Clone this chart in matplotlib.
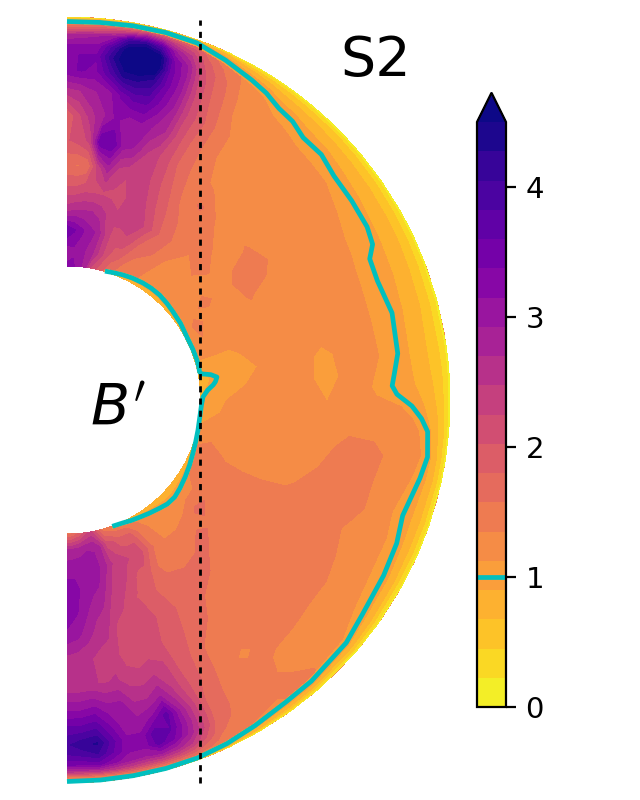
import numpy as np
import matplotlib
matplotlib.use('Agg')
import matplotlib.pyplot as plt

# everything is in picture pixels measured from the centre of the spheres
R_IN = 134
R_OUT = 383
LEVELS = np.linspace(0, 4.5, 21)

# bulk field: colatitude (rows) against radius (columns)
bulk_theta = [0, 2.5, 5, 7.5, 10, 12.5, 15, 17.5, 20, 22.5, 25, 30, 35, 40, 45, 50, 55, 60, 65, 70, 75,
              80, 85, 90, 95, 100, 105, 110, 115, 120, 125, 130, 135, 140, 145, 150, 155, 157.5, 160,
              162.5, 165, 167.5, 170, 172.5, 175, 177.5, 180]
bulk_r = [134, 150, 170, 190, 210, 235, 260, 285, 310, 330, 345, 355, 365, 372, 378, 383]
bulk_b = [
    [3.2, 3.0, 3.6, 2.6, 2.1, 1.6, 2.0, 1.8, 2.6, 3.3, 3.3, 3.2, 2.7, 1.8, 1.3, 1.3],
    [3.2, 3.1, 3.4, 2.7, 2.1, 1.55, 2.1, 2.2, 2.7, 3.4, 3.4, 3.2, 2.8, 1.9, 1.3, 1.3],
    [3.0, 3.0, 3.2, 2.7, 2.2, 1.6, 2.3, 2.6, 2.9, 3.3, 3.4, 3.2, 2.9, 2.0, 1.3, 1.3],
    [2.8, 2.9, 3.0, 2.7, 2.2, 2.3, 3.6, 2.9, 3.0, 3.8, 4.2, 3.9, 3.1, 2.2, 1.35, 1.3],
    [2.2, 2.7, 2.9, 2.6, 2.2, 2.8, 3.6, 3.2, 3.4, 4.4, 4.8, 4.7, 4.0, 2.5, 1.4, 1.3],
    [2.0, 2.4, 2.5, 2.4, 2.2, 2.4, 3.0, 3.0, 3.7, 4.4, 5.0, 5.0, 4.2, 2.9, 1.6, 1.3],
    [1.8, 2.1, 2.2, 2.3, 2.1, 2.3, 2.9, 3.1, 3.7, 4.2, 4.8, 4.7, 3.8, 2.7, 1.6, 1.3],
    [1.6, 1.9, 2.15, 2.35, 2.35, 2.3, 2.5, 2.9, 3.3, 3.5, 3.5, 3.4, 2.9, 2.3, 1.6, 1.3],
    [1.5, 1.8, 2.2, 2.4, 2.4, 2.3, 2.3, 2.7, 2.9, 3.0, 3.0, 2.9, 2.5, 2.1, 1.6, 1.3],
    [1.4, 1.6, 2.0, 2.35, 2.2, 2.1, 2.1, 2.2, 2.3, 2.3, 2.2, 2.1, 1.9, 1.7, 1.45, 1.3],
    [1.35, 1.5, 1.75, 2.15, 2.0, 1.9, 1.8, 1.85, 1.95, 1.85, 1.8, 1.75, 1.6, 1.45, 1.3, 1.3],
    [1.3, 1.4, 1.6, 1.7, 1.65, 1.5, 1.45, 1.4, 1.4, 1.35, 1.3, 1.25, 1.24, 1.24, 1.24, 1.24],
    [1.24, 1.24, 1.35, 1.5, 1.45, 1.6, 1.3, 1.24, 1.24, 1.24, 1.24, 1.24, 1.24, 1.24, 1.24, 1.24],
    [1.24, 1.24, 1.24, 1.35, 1.5, 1.3, 1.24, 1.24, 1.24, 1.24, 1.24, 1.24, 1.24, 1.24, 1.24, 1.24],
    [1.24, 1.24, 1.3, 1.45, 1.3, 1.3, 1.24, 1.24, 1.24, 1.24, 1.24, 1.24, 1.24, 1.24, 1.24, 1.24],
    [1.24, 1.24, 1.3, 1.3, 1.3, 1.36, 1.24, 1.24, 1.24, 1.24, 1.24, 1.24, 1.24, 1.24, 1.24, 1.24],
    [1.24, 1.3, 1.4, 1.24, 1.42, 1.42, 1.24, 1.24, 1.24, 1.24, 1.24, 1.24, 1.24, 1.24, 1.24, 1.24],
    [1.24, 1.4, 1.24, 1.24, 1.37, 1.3, 1.24, 1.24, 1.24, 1.24, 1.24, 1.24, 1.24, 1.24, 1.24, 1.24],
    [1.24, 1.35, 1.24, 1.24, 1.3, 1.24, 1.24, 1.24, 1.24, 1.24, 1.24, 1.24, 1.24, 1.24, 1.24, 1.24],
    [1.24, 1.24, 1.2, 1.24, 1.24, 1.24, 1.24, 1.24, 1.24, 1.24, 1.24, 1.24, 1.24, 1.24, 1.24, 1.24],
    [1.05, 1.05, 1.05, 1.2, 1.24, 1.24, 1.24, 1.24, 1.24, 1.24, 1.24, 1.24, 1.24, 1.24, 1.24, 1.24],
    [1.05, 1.05, 1.05, 1.1, 1.24, 1.24, 1.05, 1.24, 1.24, 1.24, 1.24, 1.24, 1.24, 1.24, 1.24, 1.24],
    [1.05, 1.05, 1.05, 1.2, 1.24, 1.24, 1.0, 1.24, 1.24, 1.24, 1.24, 1.24, 1.24, 1.24, 1.24, 1.24],
    [1.05, 1.05, 1.2, 1.24, 1.24, 1.24, 1.12, 1.24, 1.24, 1.24, 1.24, 1.24, 1.24, 1.24, 1.24, 1.24],
    [1.05, 1.1, 1.24, 1.24, 1.24, 1.24, 1.24, 1.24, 1.2, 1.24, 1.24, 1.24, 1.24, 1.24, 1.24, 1.24],
    [1.1, 1.24, 1.24, 1.24, 1.24, 1.24, 1.24, 1.47, 1.47, 1.24, 1.24, 1.24, 1.24, 1.24, 1.24, 1.24],
    [1.24, 1.3, 1.24, 1.24, 1.24, 1.24, 1.35, 1.47, 1.4, 1.24, 1.24, 1.24, 1.24, 1.24, 1.24, 1.24],
    [1.35, 1.47, 1.3, 1.24, 1.24, 1.3, 1.47, 1.47, 1.4, 1.24, 1.24, 1.24, 1.24, 1.24, 1.24, 1.24],
    [1.24, 1.5, 1.47, 1.47, 1.47, 1.47, 1.47, 1.47, 1.3, 1.24, 1.24, 1.24, 1.24, 1.24, 1.24, 1.24],
    [1.24, 1.5, 1.47, 1.47, 1.47, 1.47, 1.47, 1.47, 1.35, 1.24, 1.24, 1.24, 1.24, 1.24, 1.24, 1.24],
    [1.24, 1.3, 1.55, 1.47, 1.47, 1.47, 1.47, 1.47, 1.4, 1.24, 1.24, 1.24, 1.24, 1.24, 1.24, 1.24],
    [1.24, 1.24, 1.65, 1.5, 1.47, 1.47, 1.47, 1.47, 1.4, 1.24, 1.24, 1.24, 1.24, 1.24, 1.24, 1.24],
    [1.24, 1.24, 1.4, 1.65, 1.5, 1.47, 1.47, 1.47, 1.47, 1.24, 1.24, 1.24, 1.24, 1.24, 1.24, 1.24],
    [1.24, 1.3, 1.35, 1.5, 1.65, 1.5, 1.47, 1.47, 1.47, 1.3, 1.24, 1.35, 1.47, 1.47, 1.47, 1.47],
    [1.3, 1.3, 1.35, 1.5, 1.6, 1.6, 1.47, 1.47, 1.3, 1.47, 1.47, 1.47, 1.35, 1.3, 1.3, 1.3],
    [1.3, 1.4, 1.6, 1.45, 1.7, 1.7, 1.7, 1.5, 1.47, 1.47, 1.47, 1.45, 1.4, 1.35, 1.3, 1.3],
    [1.3, 1.9, 2.2, 1.9, 1.8, 1.9, 1.85, 1.85, 1.85, 1.75, 1.75, 1.7, 1.6, 1.5, 1.4, 1.3],
    [1.35, 1.9, 2.2, 1.95, 1.9, 2.0, 1.95, 2.0, 2.1, 2.3, 2.35, 2.3, 2.0, 1.7, 1.45, 1.3],
    [1.35, 1.9, 2.3, 2.1, 2.0, 2.2, 2.1, 2.3, 2.5, 2.9, 3.0, 2.9, 2.5, 2.0, 1.5, 1.3],
    [1.4, 2.1, 2.35, 2.3, 2.1, 2.1, 2.1, 2.4, 2.9, 3.7, 3.6, 3.4, 2.8, 2.2, 1.5, 1.3],
    [1.5, 2.2, 2.5, 2.3, 2.3, 2.1, 2.1, 2.3, 2.7, 3.2, 3.8, 3.7, 3.0, 2.3, 1.5, 1.3],
    [1.9, 2.7, 2.8, 2.6, 2.4, 2.2, 2.15, 2.35, 2.7, 3.0, 3.2, 3.2, 2.9, 2.3, 1.5, 1.3],
    [2.3, 2.9, 3.0, 2.9, 2.7, 2.5, 2.4, 2.5, 3.0, 3.0, 3.2, 3.2, 3.0, 2.4, 1.5, 1.3],
    [2.1, 2.9, 3.1, 3.0, 2.8, 2.6, 2.4, 2.45, 3.0, 3.4, 3.7, 3.6, 3.2, 2.5, 1.45, 1.3],
    [1.8, 2.8, 3.1, 3.1, 3.0, 2.8, 2.5, 2.5, 3.2, 3.8, 4.3, 4.05, 3.5, 2.6, 1.4, 1.3],
    [1.6, 2.75, 3.1, 3.2, 3.2, 3.0, 2.55, 2.5, 3.1, 3.7, 4.2, 3.9, 3.4, 2.5, 1.4, 1.3],
    [1.5, 2.7, 3.1, 3.2, 3.3, 3.1, 2.6, 2.5, 3.1, 3.7, 4.0, 3.8, 3.4, 2.5, 1.4, 1.3],
]

# outer shell: radius at which the field reaches each of the outer contours
shell_theta = [0, 5, 10, 15, 20, 25, 30, 33, 36, 39, 42, 46, 50, 55, 60, 63, 65, 69, 75, 82, 85,
               87.5, 89, 91, 93, 95, 99, 102.5, 109, 113.5, 119, 126, 131, 139, 144, 150, 155,
               160, 165, 170, 175, 180]
shell_b = [1.125, 1.0, 0.9, 0.675, 0.45, 0.225, 0.0]
r_1125 = [376.5, 377, 378, 378, 377, 372, 366, 362, 352, 348, 343, 341, 339, 330, 322, 320, 318,
          316, 315, 316, 310, 306, 310, 335, 347, 354, 359, 354.5, 345, 349, 350, 356, 366, 370,
          371, 374, 377, 379.5, 380, 380, 380, 380]
r_100 = [378.5, 379, 380, 380.5, 380, 375, 369.5, 366, 360.5, 358.5, 353, 353.5, 348.5, 347.5,
         346.5, 343, 334, 332.5, 336.5, 334, 329, 325.5, 330, 345, 355, 362, 365, 361.5, 355,
         359.5, 362, 365, 370, 372.5, 373, 376, 379, 381, 381.5, 381.5, 381.5, 381.5]
r_090 = [380, 380.5, 381, 381.5, 381.5, 378, 373.5, 371, 367, 365, 362, 361, 358, 355, 352, 351,
         350, 349, 347, 345, 346, 348, 352, 357, 361, 365, 368, 367, 364, 365, 367, 369, 373,
         375.5, 376, 378, 380, 382, 382.2, 382.3, 382.3, 382.3]
r_0675 = [381, 381.5, 382, 382.3, 382.3, 380.5, 377.5, 376, 374, 373, 372, 371, 370, 369, 368,
          367.5, 367, 366, 365, 363, 364, 366, 367, 369, 371, 372, 374, 374, 373, 373, 374,
          375.5, 377, 378.5, 379, 380.5, 381.5, 382.5, 382.6, 382.6, 382.6, 382.6]
r_045 = [382, 382, 382.5, 382.6, 382.6, 381.5, 380, 379.5, 379, 378.5, 378, 378, 377.5, 377,
         376.5, 376, 376, 375.5, 375, 375, 375.5, 376, 376, 377, 377.5, 378, 378.5, 378.5, 378,
         378, 378, 379, 380, 380.5, 381, 381.5, 382.2, 382.7, 382.8, 382.8, 382.8, 382.8]
r_0225 = [382.6, 382.6, 382.8, 382.8, 382.8, 382.5, 382, 381.8, 381.5, 381.3, 381, 381, 381, 381,
          381, 381, 381, 381, 381, 381, 381, 381, 381, 381, 381, 381, 381.5, 381.5, 381.5, 381.5,
          381.5, 381.7, 382, 382.2, 382.3, 382.5, 382.7, 382.9, 382.9, 382.9, 382.9, 382.9]

# thin layer on the inner sphere
inner_theta = [16.4, 20, 24, 28, 33, 37, 41.5, 46, 50, 56, 62, 68, 73, 76, 78, 79, 80, 81.3, 83,
               84.1, 86, 88.7, 92, 95.6, 103, 108, 113, 118, 123, 128, 132, 136, 139.3, 144, 148,
               152, 155.5, 160.3]
inner_r100 = [134.3, 135.5, 137, 138.3, 139.5, 140, 140, 139, 138, 137, 135.5, 135.7, 136, 135.8,
              135.5, 137, 146, 151.7, 149.5, 147, 141, 136, 134.6, 134, 134.4, 135.3, 136.7,
              138.8, 141, 143.3, 145, 144.5, 142.5, 140, 138, 136.5, 135, 134.2]
inner_wall_b = 0.75
inner_shell_b = [inner_wall_b, 1.0, 1.125]


def to_xy(theta_deg, r):
    th = np.radians(theta_deg)
    return r * np.sin(th), r * np.cos(th)


fig = plt.figure(figsize=(3.2, 4), dpi=200)
ax = fig.add_axes([0, 0, 1, 1])

# bulk
tt, rr = np.meshgrid(bulk_theta, bulk_r, indexing='ij')
x, y = to_xy(tt, rr)
cf = ax.contourf(x, y, np.array(bulk_b), levels=LEVELS, cmap='plasma_r', extend='max')

# outer shell on top of the bulk
radii = np.column_stack([r_1125, r_100, r_090, r_0675, r_045, r_0225, np.full(len(shell_theta), R_OUT)])
tt = np.column_stack([shell_theta] * len(shell_b))
sb = np.tile(shell_b, (len(shell_theta), 1))
x, y = to_xy(tt, radii)
ax.contourf(x, y, sb, levels=LEVELS, cmap='plasma_r', extend='max')
cs = ax.contour(x, y, sb, levels=[1.0], colors='c', linewidths=1.7)

# inner layer
inner_r100 = np.array(inner_r100)
radii = np.column_stack([np.full(len(inner_r100), R_IN - 0.2), inner_r100, inner_r100 + 2])
tt = np.column_stack([inner_theta] * 3)
sb = np.tile(inner_shell_b, (len(inner_theta), 1))
x, y = to_xy(tt, radii)
ax.contourf(x, y, sb, levels=LEVELS, cmap='plasma_r', extend='max')
ax.contour(x, y, sb, levels=[1.0], colors='c', linewidths=1.7)

# tangent cylinder
ax.plot([R_IN - 1, R_IN - 1], [-R_OUT, 380], color='k', lw=1, ls=(0, (2.2, 2.2)))

ax.text(309, 339, 'S2', fontsize=20, ha='center', va='center')
ax.text(50.5, -10, r"$B'$", fontsize=20.5, ha='center', va='center')

ax.set_xlim(-67, 573)
ax.set_ylim(-400, 400)
ax.axis('off')

cax = fig.add_axes([477 / 640, 93 / 800, 29 / 640, 614.25 / 800])
cbar = fig.colorbar(cf, cax=cax, ticks=[0, 1, 2, 3, 4])
cbar.add_lines(cs)
cbar.ax.tick_params(labelsize=10.5)

fig.savefig('out.png', dpi=200)
